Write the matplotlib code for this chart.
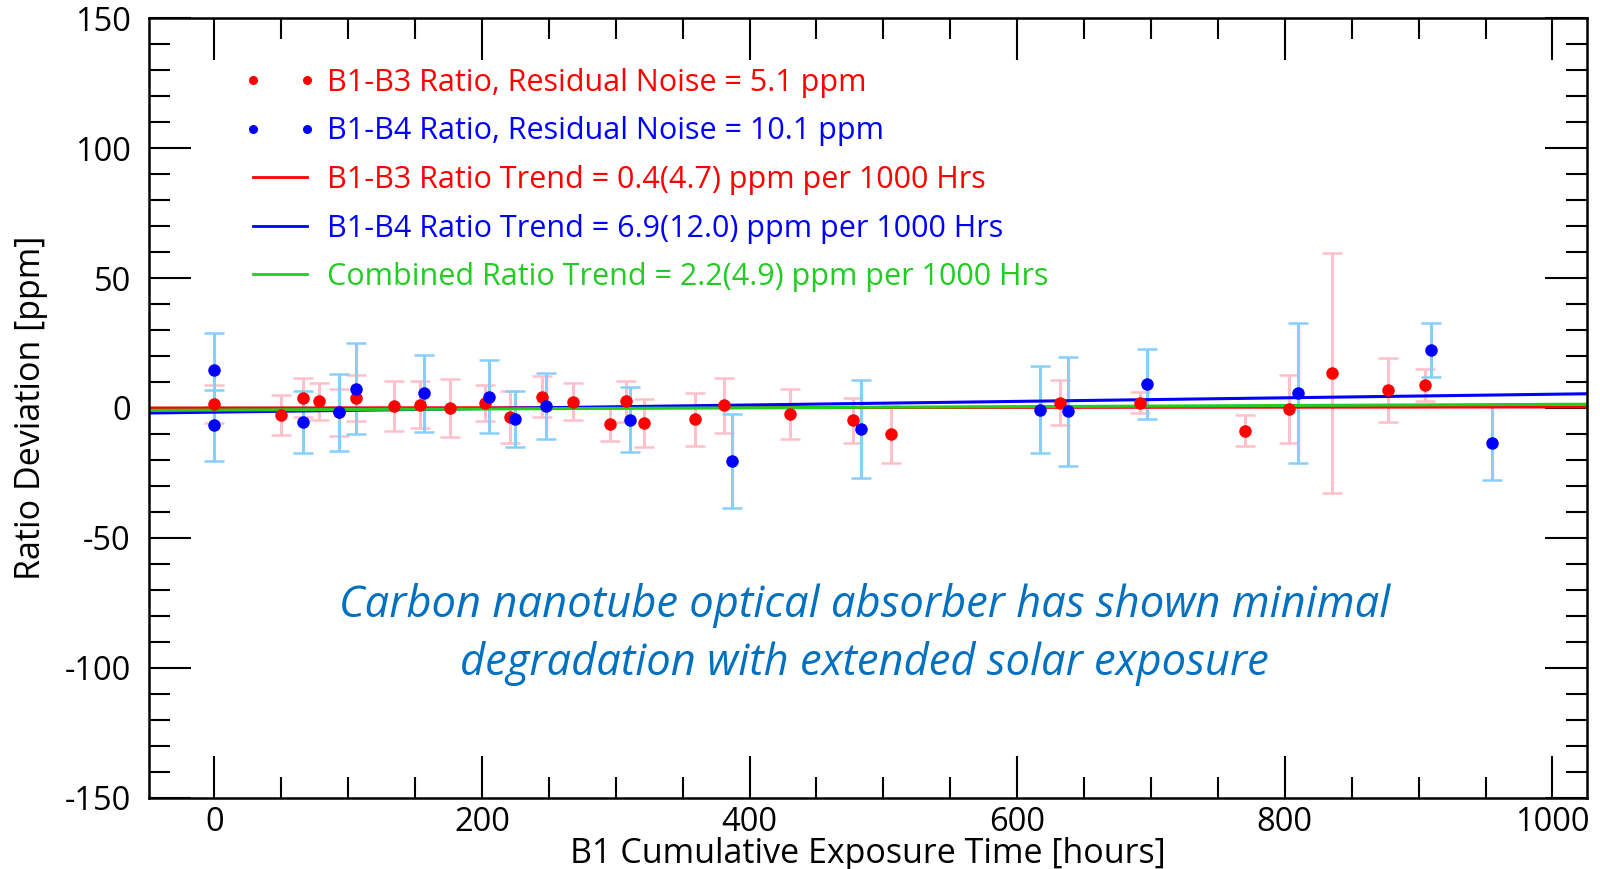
import matplotlib
matplotlib.use("Agg")
import matplotlib.pyplot as plt
from matplotlib.lines import Line2D
from matplotlib.ticker import MultipleLocator
import numpy as np

plt.rcParams["font.family"] = ["Open Sans", "DejaVu Sans"]
plt.rcParams["axes.unicode_minus"] = False

# B1-B3 ratio deviations (ppm) vs cumulative exposure (hours)
red_x = [0, 50, 66, 78, 93, 106, 134, 154, 176, 202, 221, 245, 268, 296, 308,
         321, 359, 381, 430, 477, 506, 632, 692, 770, 803, 835, 877, 905]
red_y = [1.5, -2.6, 4.0, 2.5, -1.7, 3.8, 0.8, 1.2, 0.0, 1.9, -3.5, 4.4, 2.4,
         -6.1, 2.5, -5.8, -4.3, 1.0, -2.4, -4.8, -10.2, 2.1, 2.1, -8.8, -0.4,
         13.4, 6.9, 8.7]
red_err = [7.4, 7.7, 7.5, 7.0, 9.0, 8.8, 9.6, 9.0, 11.1, 6.8, 9.9, 8.0, 7.2,
           6.5, 8.0, 9.3, 10.2, 10.7, 9.7, 8.6, 11.0, 8.7, 3.9, 6.0, 13.1,
           46.3, 12.4, 6.2]

# B1-B4 ratio deviations (ppm)
blue_x = [0, 0, 66, 93, 106, 157, 205, 225, 248, 311, 387, 483, 617, 638, 697,
          810, 909, 955]
blue_y = [14.7, -6.7, -5.4, -1.7, 7.4, 5.7, 4.4, -4.2, 0.8, -4.5, -20.3, -8.1,
          -0.7, -1.3, 9.3, 5.7, 22.4, -13.3]
blue_err = [14.3, 13.7, 11.8, 14.8, 17.5, 14.8, 14.2, 10.7, 12.8, 12.6, 18.0,
            18.8, 16.8, 21.0, 13.5, 26.9, 10.3, 14.3]

# Linear trends: slope in ppm per 1000 hours, offset in ppm
trend_names = ["B1-B3", "B1-B4", "Combined"]
trend_slope = [0.4, 6.9, 2.2]
trend_offset = [0.0, -1.6, -0.8]
trend_colors = ["#ff0000", "#0000ff", "#22cc22"]

legend_labels = [
    "B1-B3 Ratio, Residual Noise = 5.1 ppm",
    "B1-B4 Ratio, Residual Noise = 10.1 ppm",
    "B1-B3 Ratio Trend = 0.4(4.7) ppm per 1000 Hrs",
    "B1-B4 Ratio Trend = 6.9(12.0) ppm per 1000 Hrs",
    "Combined Ratio Trend = 2.2(4.9) ppm per 1000 Hrs",
]

note_lines = ["Carbon nanotube optical absorber has shown minimal",
              "degradation with extended solar exposure"]

x_lim = (-49, 1026)
y_lim = (-150, 150)

fig = plt.figure(figsize=(16, 8.69), dpi=100)
ax = fig.add_axes([0.093, 0.082, 0.899, 0.897])

# error bars behind everything else
ax.errorbar(red_x, red_y, yerr=red_err, fmt="none", ecolor="#ffc0cb",
            elinewidth=2.2, capsize=7, capthick=1.8, zorder=2)
ax.errorbar(blue_x, blue_y, yerr=blue_err, fmt="none", ecolor="#87cefa",
            elinewidth=2.2, capsize=7, capthick=1.8, zorder=2.1)

xs = np.array(x_lim, dtype=float)
for s, b, c in zip(trend_slope, trend_offset, trend_colors):
    ax.plot(xs, b + s / 1000.0 * xs, color=c, lw=2.2, zorder=2.3)

ax.plot(red_x, red_y, "o", color="#ff0000", ms=9, mec="none", zorder=3)
ax.plot(blue_x, blue_y, "o", color="#0000ff", ms=9, mec="none", zorder=3.1)

ax.set_xlim(*x_lim)
ax.set_ylim(*y_lim)

ax.xaxis.set_major_locator(MultipleLocator(200))
ax.xaxis.set_minor_locator(MultipleLocator(50))
ax.yaxis.set_major_locator(MultipleLocator(50))
ax.yaxis.set_minor_locator(MultipleLocator(10))
ax.tick_params(which="both", direction="in", top=True, right=True,
               width=1.5, color="black")
ax.tick_params(which="major", length=30)
ax.tick_params(which="minor", length=15)
ax.tick_params(axis="y", which="major", labelsize=23.5, pad=13)
ax.tick_params(axis="x", which="major", labelsize=23.5, pad=6)
for sp in ax.spines.values():
    sp.set_linewidth(1.8)

ax.set_xlabel("B1 Cumulative Exposure Time [hours]", fontsize=24.5)
ax.set_ylabel("Ratio Deviation [ppm]", fontsize=24.5)
ax.xaxis.set_label_coords(0.5, -0.050)
ax.yaxis.set_label_coords(-0.070, 0.5)

handles = [
    Line2D([], [], ls="none", marker="o", color="#ff0000", ms=6.5, mec="none"),
    Line2D([], [], ls="none", marker="o", color="#0000ff", ms=6.5, mec="none"),
] + [Line2D([], [], color=c, lw=2) for c in trend_colors]
text_colors = ["#ff0000", "#0000ff"] + trend_colors

leg = ax.legend(handles, legend_labels, loc="upper left",
                bbox_to_anchor=(0.049, 0.968), frameon=False, numpoints=2,
                prop={"family": "Open Sans", "size": 22},
                handlelength=2.37, handletextpad=0.37, labelspacing=0.61,
                borderpad=0.3)
for t, c in zip(leg.get_texts(), text_colors):
    t.set_color(c)

note_color = "#0070c0"
ax.text(486, -76.2, note_lines[0], ha="center", va="center", fontsize=31.3,
        style="italic", color=note_color)
ax.text(486, -98.5, note_lines[1], ha="center", va="center", fontsize=31.3,
        style="italic", color=note_color)

fig.savefig("out.png", dpi=100)
